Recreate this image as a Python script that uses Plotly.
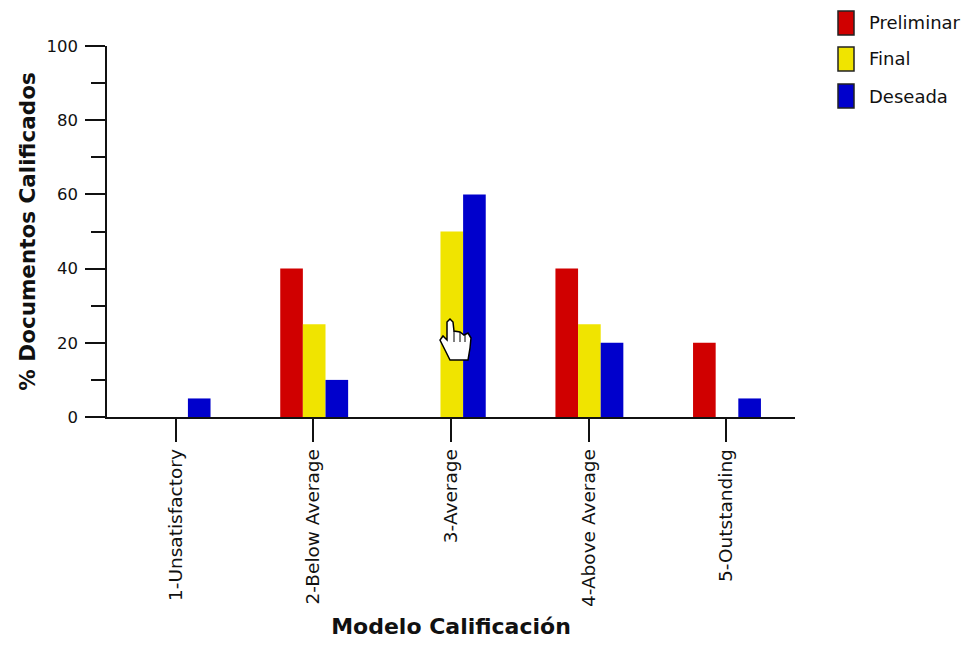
import plotly.graph_objects as go

categories = ["1-Unsatisfactory", "2-Below Average", "3-Average", "4-Above Average", "5-Outstanding"]
preliminar = [0, 40, 0, 40, 20]
final = [0, 25, 50, 25, 0]
deseada = [5, 10, 60, 20, 5]
series_names = ["Preliminar", "Final", "Deseada"]
series_colors = ["#d00000", "#f0e400", "#0000cc"]
y_ticks = [0, 20, 40, 60, 80, 100]

W, H = 972, 645
L, R, T, B = 107, 177, 46, 228
FONT = "DejaVu Sans"
BAR_W = 0.1645
BAR_START = -0.241

fig = go.Figure()
for i, (name, vals, col) in enumerate(zip(series_names, [preliminar, final, deseada], series_colors)):
    fig.add_bar(x=categories, y=vals, name=name, width=BAR_W, offset=BAR_START + i * BAR_W,
                marker=dict(color=col, line_width=0), showlegend=False)

px = lambda x: (x - L) / (W - L - R)
py = lambda y: (H - B - y) / (H - T - B)

# legend drawn as tall outlined swatches, as in the reference
legend_y = [23, 59, 96]
for name, col, cy in zip(series_names, series_colors, legend_y):
    fig.add_shape(type="rect", xref="paper", yref="paper",
                  x0=px(838), x1=px(854), y0=py(cy + 12), y1=py(cy - 12),
                  fillcolor=col, line=dict(color="#222222", width=1.5))
    fig.add_annotation(text=name, xref="paper", yref="paper", showarrow=False,
                       x=px(867), y=py(cy), xanchor="left", yanchor="middle",
                       font=dict(family=FONT, size=18, color="#111111"))

# hand cursor artefact from the screenshot
hand = [(447, 322), (450, 319), (453, 322), (454, 331), (460, 332), (464, 335), (468, 333), (471, 338),
        (470, 348), (468, 360), (450, 360), (445, 350), (440, 340), (443, 336), (447, 340)]
fig.add_shape(type="path", xref="paper", yref="paper",
              path="M " + " L ".join(f"{px(a):.5f},{py(b):.5f}" for a, b in hand) + " Z",
              fillcolor="white", line=dict(color="black", width=1.5))
for a, b0, b1 in [(454, 331, 342), (460, 332, 342), (465, 335, 342)]:
    fig.add_shape(type="line", xref="paper", yref="paper", x0=px(a), x1=px(a), y0=py(b0), y1=py(b1),
                  line=dict(color="black", width=1))

fig.update_layout(
    width=W, height=H, autosize=False,
    margin=dict(l=L, r=R, t=T, b=B, pad=0),
    paper_bgcolor="white", plot_bgcolor="white",
    font=dict(family=FONT, size=16, color="#111111"),
    xaxis=dict(
        type="category", range=[-0.5, 4.5], tickangle=-90, ticks="outside", ticklen=23, tickwidth=1.5,
        tickcolor="#111111", showline=True, linecolor="#111111", linewidth=1.5, showgrid=False, zeroline=False,
        tickfont=dict(family=FONT, size=18.5), automargin=False,
        title=dict(text="<b>Modelo Calificación</b>", font=dict(family=FONT, size=22), standoff=13),
    ),
    yaxis=dict(
        range=[0, 100], tickmode="array", tickvals=y_ticks, ticks="outside", ticklen=20, tickwidth=1.5,
        tickcolor="#111111", showline=True, linecolor="#111111", linewidth=1.5, showgrid=False, zeroline=False,
        tickfont=dict(family=FONT, size=16.5), ticklabelstandoff=4, automargin=False,
        minor=dict(dtick=10, ticks="outside", ticklen=14, tickwidth=1.5, tickcolor="#111111", showgrid=False),
        title=dict(text="<b>% Documentos Calificados</b>", font=dict(family=FONT, size=21.5), standoff=5),
    ),
)
fig.write_html("out.html", config={"displayModeBar": False}, post_script="document.body.style.margin='0';")
